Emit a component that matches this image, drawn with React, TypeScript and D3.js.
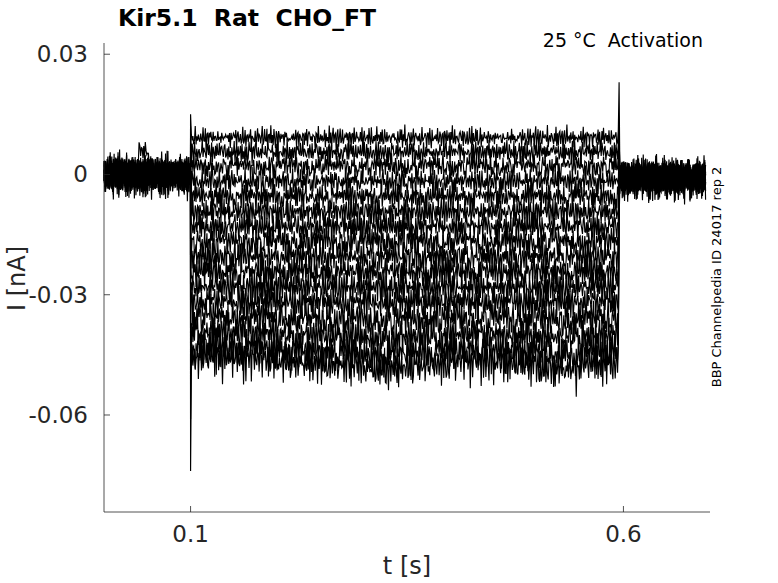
import * as d3 from "d3";

const TITLE = "Kir5.1  Rat  CHO_FT";
const CONDITION = "25 °C  Activation";
const SOURCE = "BBP Channelpedia ID 24017 rep 2";

const xTicks = [0.1, 0.6];
const yTicks = [0.03, 0, -0.03, -0.06];
const xDomain = [0, 0.7];
const yDomain = [-0.0842, 0.0328];

// protocol timing (s)
const stepStart = 0.1;
const stepEnd = 0.595;
const traceEnd = 0.695;
const sampleStep = 0.0009;

// current during the voltage step, one per sweep (nA)
const stepLevels = [
  0.0092, 0.0056, 0.0021, -0.0017, -0.0055, -0.0093, -0.013, -0.0168,
  -0.0205, -0.0243, -0.028, -0.0318, -0.0356, -0.0393, -0.0428, -0.0455,
];
const stepNoise = [
  0.0027, 0.0029, 0.0031, 0.0032, 0.0034, 0.0035, 0.0037, 0.0038,
  0.004, 0.0041, 0.0043, 0.0044, 0.0046, 0.0048, 0.005, 0.0054,
];
// extra inward current of the largest sweeps, per 50 ms bin from step onset
const sagDepth = [0.0, 0.0005, 0.0015, 0.002, 0.003, 0.002, 0.001, 0.0015, 0.003, 0.0015];
// holding current before / after the step
const holdBefore = [
  0.0004, -0.0002, 0.0001, 0.0, -0.0003, 0.0002, -0.0001, 0.0003,
  -0.0002, 0.0001, 0.0, -0.0004, 0.0002, -0.0001, 0.0003, -0.0002,
];
const holdAfter = [
  -0.0006, -0.001, -0.0007, -0.0011, -0.0008, -0.0005, -0.0012, -0.0009,
  -0.0007, -0.001, -0.0006, -0.0011, -0.0008, -0.0009, -0.0007, -0.001,
];
const holdNoise = 0.0043;
// capacitive transients at step on / off
const onsetPeaks = [
  0.015, 0.012, 0.009, 0.006, 0.003, -0.001, -0.006, -0.011,
  -0.017, -0.023, -0.029, -0.036, -0.043, -0.051, -0.061, -0.074,
];
const offsetPeaks = [
  0.023, 0.013, 0.011, 0.009, 0.008, 0.007, 0.006, 0.005,
  0.004, 0.003, 0.002, 0.001, 0.0, -0.003, -0.006, -0.011,
];
// small excursion on one sweep during the holding period
const bumpSweep = 3;
const bumpWindow = [0.039, 0.052];
const bumpShift = 0.0058;

// recorded noise shape, normalised (two segments of different length)
const jitterA = [
  0.42, -0.81, 0.15, 0.93, -0.37, -0.12, 0.68, -0.95, 0.27, 0.55, -0.63, 0.04,
  0.88, -0.49, -0.22, 0.71, -0.86, 0.33, 0.09, -0.58, 0.97, -0.31, 0.18, -0.74,
  0.62, -0.05, -0.91, 0.46, 0.24, -0.67, 0.79, -0.14, -0.43, 0.85, -0.99, 0.36,
  0.11, -0.52, 0.64, -0.28, 0.92, -0.76, 0.02, 0.57, -0.35, -0.83, 0.49, 0.21,
  -0.61, 0.75, -0.09, -0.47, 0.98, -0.72, 0.31, 0.13, -0.89, 0.53, -0.18, 0.66,
  -0.41, 0.07, 0.84, -0.97, 0.39, -0.26, 0.58, -0.69, 0.19, 0.91, -0.54, -0.03,
  0.73, -0.84, 0.28, 0.45, -0.33, -0.78, 0.61, 0.16, -0.59, 0.87, -0.21, -0.45,
  0.69, -0.93, 0.34, 0.06, -0.65, 0.81, -0.16, 0.51, -0.88, 0.26, -0.39, 0.77,
  -0.7,
];
const jitterB = [
  -0.3, 0.55, 0.1, -0.8, 0.35, 0.9, -0.45, -0.05, 0.6, -1.6, 0.2, 0.75,
  -0.6, 0.0, 0.45, -0.25, 0.85, -0.7, 0.3, -0.15, 1.5, -0.5, -0.9, 0.4,
  0.15, -0.35, 0.7, -1.4, 0.05, 0.5, -0.2, 1.0, -0.65, 0.25, -0.4, 0.8,
  -0.1, -0.75, 0.6, 0.35, -1.7, 0.1, 0.65, -0.3, -0.55, 1.3, -0.05, 0.4,
  -0.8, 0.2, 0.55, -0.45, 0.75, -0.2, -1.5, 0.3, 0.85, -0.9, 0.0, 0.5, -0.35,
];

const W = 778;
const H = 583;
const plot = { left: 104, right: 710, top: 43, bottom: 512 };
const axisColor = "#262626";
const font = "DejaVu Sans, sans-serif";

function buildSweep(j: number): [number, number][] {
  const pts: [number, number][] = [];
  let k = j * 11;
  const stride = 1 + (j % 5);
  const noise = () => {
    const v = 0.7 * jitterA[k % jitterA.length] + 0.45 * jitterB[(k * stride + j) % jitterB.length];
    k++;
    return v;
  };
  const sagShare = Math.max(0, (j - 11) / 4);
  for (const t of d3.range(0, stepStart, sampleStep)) {
    let v = holdBefore[j] + noise() * holdNoise;
    if (j === bumpSweep && t > bumpWindow[0] && t < bumpWindow[1]) v += bumpShift;
    pts.push([t, v]);
  }
  pts.push([stepStart, onsetPeaks[j]]);
  for (const t of d3.range(stepStart + sampleStep, stepEnd, sampleStep)) {
    const bin = Math.min(sagDepth.length - 1, Math.floor((t - stepStart) / 0.05));
    pts.push([t, stepLevels[j] - sagShare * sagDepth[bin] + noise() * stepNoise[j]]);
  }
  pts.push([stepEnd, offsetPeaks[j]]);
  for (const t of d3.range(stepEnd + sampleStep, traceEnd, sampleStep)) {
    pts.push([t, holdAfter[j] + noise() * holdNoise]);
  }
  return pts;
}

export default function App() {
  const x = d3.scaleLinear().domain(xDomain).range([plot.left, plot.right]);
  const y = d3.scaleLinear().domain(yDomain).range([plot.bottom, plot.top]);
  const line = d3
    .line<[number, number]>()
    .x((d) => x(d[0]))
    .y((d) => y(d[1]));
  const sweeps = stepLevels.map((_, j) => buildSweep(j));

  return (
    <svg
      width={W}
      height={H}
      style={{ position: "absolute", left: 0, top: 0, background: "#fff" }}
    >
      <g fill="none" stroke="#000" strokeWidth={1.15} strokeLinejoin="miter">
        {sweeps.map((s, j) => (
          <path key={j} d={line(s) as string} />
        ))}
      </g>

      {/* axes */}
      <g stroke={axisColor} strokeWidth={0.8} fill="none">
        <line x1={plot.left} x2={plot.left} y1={plot.top} y2={plot.bottom} />
        <line x1={plot.left} x2={plot.right} y1={plot.bottom} y2={plot.bottom} />
        {yTicks.map((v) => (
          <line key={v} x1={plot.left} x2={plot.left + 6} y1={y(v)} y2={y(v)} />
        ))}
        {xTicks.map((v) => (
          <line key={v} x1={x(v)} x2={x(v)} y1={plot.bottom} y2={plot.bottom - 6} />
        ))}
      </g>
      <g fill={axisColor} fontFamily={font} fontSize={23}>
        {yTicks.map((v) => (
          <text key={v} x={plot.left - 16} y={y(v) + 8} textAnchor="end">
            {String(v)}
          </text>
        ))}
        {xTicks.map((v) => (
          <text key={v} x={x(v)} y={542} textAnchor="middle">
            {String(v)}
          </text>
        ))}
        <text x={(plot.left + plot.right) / 2} y={574} textAnchor="middle" fontSize={24}>
          t [s]
        </text>
        <text
          transform={`translate(25, ${(plot.top + plot.bottom) / 2 + 1}) rotate(-90)`}
          textAnchor="middle"
          fontSize={24}
        >
          I [nA]
        </text>
      </g>

      <text
        x={118}
        y={26}
        fontFamily={font}
        fontSize={23.5}
        fontWeight="bold"
        fill="#000"
        style={{ whiteSpace: "pre" }}
      >
        {TITLE}
      </text>
      <text
        x={703}
        y={47}
        fontFamily={font}
        fontSize={19}
        textAnchor="end"
        fill="#000"
        style={{ whiteSpace: "pre" }}
      >
        {CONDITION}
      </text>
      <text
        transform={`translate(721, 277) rotate(-90)`}
        fontFamily={font}
        fontSize={13}
        textAnchor="middle"
        fill="#000"
      >
        {SOURCE}
      </text>
    </svg>
  );
}
